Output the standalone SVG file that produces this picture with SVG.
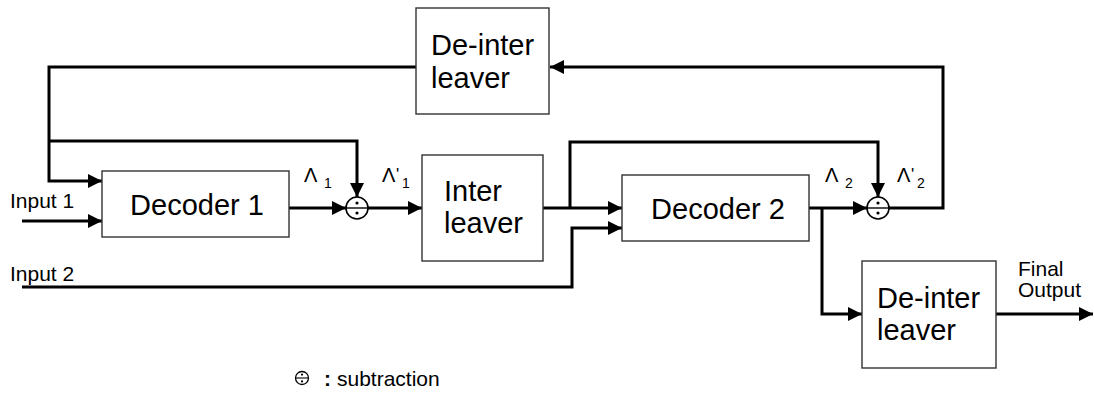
<svg xmlns="http://www.w3.org/2000/svg" width="1094" height="396" viewBox="0 0 1094 396">
  <style>
    .box { fill: #fff; stroke: #333; stroke-width: 1.4; }
    .big { font-family: "Liberation Sans", Arial, sans-serif; font-size: 29px; fill: #000; }
    .lbl { font-family: "Liberation Sans", Arial, sans-serif; font-size: 21px; fill: #000; }
    .sym { font-family: "Liberation Sans", Arial, sans-serif; font-size: 20px; fill: #000; }
    .sub { font-family: "Liberation Sans", Arial, sans-serif; font-size: 14px; fill: #000; }
    .prime { font-family: "Liberation Sans", Arial, sans-serif; font-size: 17px; fill: #000; }
    .wire { fill: none; stroke: #000; stroke-width: 3; }
    .op { fill: #fff; stroke: #000; stroke-width: 1.6; }
  </style>
  <defs>
    <marker id="arrow" markerUnits="userSpaceOnUse" markerWidth="16" markerHeight="16" viewBox="0 0 16 16" refX="15" refY="8" orient="auto">
      <path d="M1,1 L15,8 L1,15 Z" fill="#000"/>
    </marker>
    <g id="minus-op">
      <circle class="op" r="11"/>
      <line x1="-11" y1="0" x2="11" y2="0" stroke="#000" stroke-width="1.4"/>
      <circle cx="0" cy="-5" r="1.6" fill="#000"/>
      <circle cx="0" cy="5" r="1.6" fill="#000"/>
    </g>
  </defs>

  <g id="connectors">
    <path class="wire" d="M889,208 H943 V67 H550" marker-end="url(#arrow)"/>
    <path class="wire" d="M416,67 H49 V181 H102" marker-end="url(#arrow)"/>
    <path class="wire" d="M49,141 H357 V197" marker-end="url(#arrow)"/>
    <path class="wire" d="M22,221 H102" marker-end="url(#arrow)"/>
    <path class="wire" d="M289,208 H346" marker-end="url(#arrow)"/>
    <path class="wire" d="M368,208 H422" marker-end="url(#arrow)"/>
    <path class="wire" d="M543,208 H622" marker-end="url(#arrow)"/>
    <path class="wire" d="M570,208 V142 H878 V197" marker-end="url(#arrow)"/>
    <path class="wire" d="M22,287 H572 V228 H622" marker-end="url(#arrow)"/>
    <path class="wire" d="M809,208 H867" marker-end="url(#arrow)"/>
    <path class="wire" d="M822,208 V314 H862" marker-end="url(#arrow)"/>
    <path class="wire" d="M996,314 H1093" marker-end="url(#arrow)"/>
  </g>

  <g id="deinterleaver-feedback">
    <rect class="box" x="416" y="8" width="133" height="106"/>
    <text class="big" x="431" y="55">De-inter</text>
    <text class="big" x="431" y="88">leaver</text>
  </g>

  <g id="decoder1">
    <rect class="box" x="102" y="171" width="187" height="66"/>
    <text class="big" x="197" y="215" text-anchor="middle">Decoder 1</text>
  </g>

  <g id="interleaver">
    <rect class="box" x="422" y="155" width="121" height="106"/>
    <text class="big" x="444" y="201">Inter</text>
    <text class="big" x="444" y="233">leaver</text>
  </g>

  <g id="decoder2">
    <rect class="box" x="622" y="175" width="187" height="66"/>
    <text class="big" x="718" y="219" text-anchor="middle">Decoder 2</text>
  </g>

  <g id="deinterleaver-output">
    <rect class="box" x="862" y="261" width="134" height="107"/>
    <text class="big" x="877" y="308">De-inter</text>
    <text class="big" x="877" y="340">leaver</text>
  </g>

  <g id="subtract1">
    <use href="#minus-op" x="357" y="208"/>
  </g>
  <g id="subtract2">
    <use href="#minus-op" x="878" y="208"/>
  </g>

  <g id="labels">
    <text class="lbl" x="10" y="208">Input 1</text>
    <text class="lbl" x="10" y="281">Input 2</text>
    <text class="lbl" x="1018" y="276">Final</text>
    <text class="lbl" x="1018" y="297">Output</text>

    <text class="sym" x="304" y="182">Λ</text>
    <text class="sub" x="324" y="188">1</text>
    <text class="sym" x="382" y="182">Λ</text>
    <text class="prime" x="396" y="180">'</text>
    <text class="sub" x="402" y="188">1</text>

    <text class="sym" x="825" y="182">Λ</text>
    <text class="sub" x="845" y="188">2</text>
    <text class="sym" x="897" y="182">Λ</text>
    <text class="prime" x="911" y="180">'</text>
    <text class="sub" x="917" y="188">2</text>
  </g>

  <g id="legend">
    <circle cx="302" cy="378" r="6.5" fill="#fff" stroke="#000" stroke-width="1.3"/>
    <line x1="295.5" y1="378" x2="308.5" y2="378" stroke="#000" stroke-width="1.1"/>
    <circle cx="302" cy="374.6" r="1.1" fill="#000"/>
    <circle cx="302" cy="381.4" r="1.1" fill="#000"/>
    <text class="lbl" x="324" y="386" font-weight="bold">:</text>
    <text class="lbl" x="337" y="386" font-size="22">subtraction</text>
  </g>
</svg>
